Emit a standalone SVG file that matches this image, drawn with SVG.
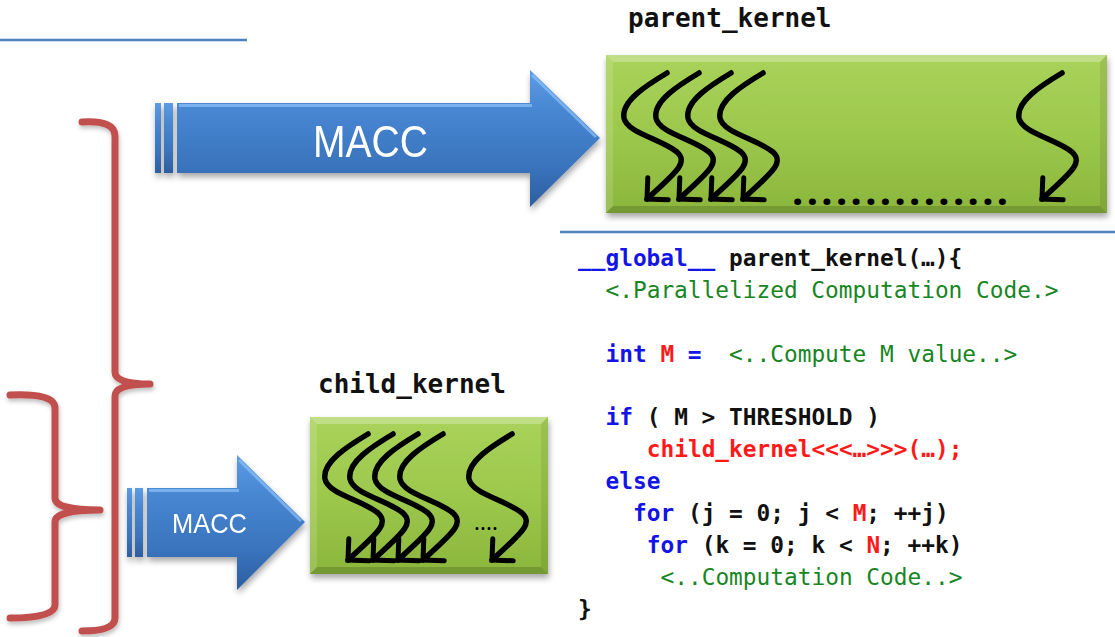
<svg xmlns="http://www.w3.org/2000/svg" width="1115" height="637" viewBox="0 0 1115 637">
  <defs>
    <style>
      .rule { stroke: #4f81bd; stroke-width: 2.5; fill: none; }
      .brace { stroke: #c0504d; stroke-width: 7; fill: none; stroke-linecap: round; stroke-linejoin: round; }
      .thread { stroke: #000; stroke-width: 5.5; fill: none; stroke-linecap: round; marker-end: url(#chevron); }
      .label { font-family: "DejaVu Sans Mono", "Liberation Mono", monospace; font-weight: bold; font-size: 26px; fill: #111; }
      .code { font-family: "DejaVu Sans Mono", "Liberation Mono", monospace; font-size: 22.8px; font-weight: bold; }
      .kw { fill: #1414e6; }
      .tx { fill: #111; }
      .hl { fill: #ff1a1a; }
      .cm { fill: #17861f; font-weight: normal; }
      .macc { font-family: "Liberation Sans", Arial, sans-serif; fill: #fff; }
      .dots { font-family: "Noto Sans", "Open Sans", sans-serif; font-weight: bold; fill: #000; }
      .bevel-top { fill: #fff; opacity: 0.28; }
      .bevel-left { fill: #fff; opacity: 0.14; }
      .bevel-right { fill: #000; opacity: 0.08; }
      .bevel-bottom { fill: #000; opacity: 0.16; }
    </style>
    <linearGradient id="green" x1="0" y1="0" x2="0" y2="1">
      <stop offset="0" stop-color="#a9d35a"/>
      <stop offset="0.5" stop-color="#9cc84c"/>
      <stop offset="1" stop-color="#8bb63c"/>
    </linearGradient>
    <linearGradient id="blue" x1="0" y1="0" x2="0" y2="1">
      <stop offset="0" stop-color="#5d9be4"/>
      <stop offset="0.3" stop-color="#4886d2"/>
      <stop offset="0.7" stop-color="#3a74bd"/>
      <stop offset="1" stop-color="#2c5e9f"/>
    </linearGradient>
    <filter id="shadow" x="-10%" y="-10%" width="120%" height="130%">
      <feDropShadow dx="1" dy="4" stdDeviation="3" flood-color="#000" flood-opacity="0.35"/>
    </filter>
    <filter id="softshadow" x="-20%" y="-5%" width="140%" height="110%">
      <feDropShadow dx="1" dy="3" stdDeviation="2" flood-color="#000" flood-opacity="0.25"/>
    </filter>
    <marker id="chevron" markerUnits="userSpaceOnUse" viewBox="0 0 24 24" refX="20" refY="12" markerWidth="24" markerHeight="24" orient="auto" overflow="visible">
      <path d="M5,-3 L20,12 L5,27" fill="none" stroke="#000" stroke-width="5" stroke-linecap="round" stroke-linejoin="miter"/>
    </marker>
    <!-- one wavy thread, drawn from its top start point -->
    <path id="wave" class="thread" d="M0,0 C-20,12 -46,28 -43,45 C-40,60 -6,66 10,79 C22,90 8,100 -20,126"/>
  </defs>

  <rect width="1115" height="637" fill="#fff"/>

  <!-- horizontal rules -->
  <line class="rule" x1="0" y1="40" x2="247" y2="40"/>
  <line class="rule" x1="560" y1="232" x2="1115" y2="232"/>

  <!-- braces on the left -->
  <g id="braces" filter="url(#softshadow)">
    <path class="brace" d="M82,122 Q115,120 115,136 L115,372 Q115,384 150,384 Q115,384 115,396 L115,618 Q115,631 82,631"/>
    <path class="brace" d="M10,395 Q55,393 55,408 L55,498 Q55,510 100,510 Q55,510 55,522 L55,605 Q55,618 10,618"/>
  </g>

  <!-- MACC arrows -->
  <g id="connectors">
    <g id="arrow-parent" filter="url(#shadow)">
      <rect x="155" y="103" width="6" height="70" fill="url(#blue)"/>
      <rect x="164" y="103" width="9" height="70" fill="url(#blue)"/>
      <path d="M177,103 L530,103 L530,70 L600,138 L530,207 L530,173 L177,173 Z" fill="url(#blue)"/>
      <path d="M179,105.5 L532,105.5 M532,75 L596,137" stroke="#8cc2f7" stroke-width="3" opacity="0.7" fill="none"/>
      <text class="macc" x="313" y="157" font-size="44" textLength="115" lengthAdjust="spacingAndGlyphs">MACC</text>
    </g>
    <g id="arrow-child" filter="url(#shadow)">
      <rect x="127" y="488" width="5" height="69" fill="url(#blue)"/>
      <rect x="135" y="488" width="8" height="69" fill="url(#blue)"/>
      <path d="M147,488 L237,488 L237,455 L305,522 L237,590 L237,557 L147,557 Z" fill="url(#blue)"/>
      <path d="M149,490.5 L239,490.5 M239,460 L301,521" stroke="#8cc2f7" stroke-width="3" opacity="0.7" fill="none"/>
      <text class="macc" x="172" y="533" font-size="28" textLength="75" lengthAdjust="spacingAndGlyphs">MACC</text>
    </g>
  </g>

  <!-- parent kernel -->
  <g id="parent-kernel">
    <text class="label" x="628" y="27">parent_kernel</text>
    <g filter="url(#shadow)">
      <rect x="606" y="55" width="501" height="158" fill="url(#green)"/>
    </g>
    <polygon class="bevel-top" points="606,55 1107,55 1100,62 613,62"/>
    <polygon class="bevel-left" points="606,55 613,62 613,206 606,213"/>
    <polygon class="bevel-right" points="1107,55 1107,213 1100,206 1100,62"/>
    <polygon class="bevel-bottom" points="606,213 1107,213 1100,206 613,206"/>
    <use href="#wave" x="667" y="73"/>
    <use href="#wave" x="699" y="73"/>
    <use href="#wave" x="731" y="73"/>
    <use href="#wave" x="763" y="73"/>
    <use href="#wave" x="1062" y="73"/>
    <text class="dots" x="792" y="205" font-size="40" textLength="216" lengthAdjust="spacing">...............</text>
  </g>

  <!-- child kernel -->
  <g id="child-kernel">
    <text class="label" x="318" y="393">child_kernel</text>
    <g filter="url(#shadow)">
      <rect x="310" y="417" width="238" height="157" fill="url(#green)"/>
    </g>
    <polygon class="bevel-top" points="310,417 548,417 541,424 317,424"/>
    <polygon class="bevel-left" points="310,417 317,424 317,567 310,574"/>
    <polygon class="bevel-right" points="548,417 548,574 541,567 541,424"/>
    <polygon class="bevel-bottom" points="310,574 548,574 541,567 317,567"/>
    <use href="#wave" x="368" y="434"/>
    <use href="#wave" x="393" y="434"/>
    <use href="#wave" x="418" y="434"/>
    <use href="#wave" x="443" y="434"/>
    <use href="#wave" x="512" y="434"/>
    <text x="474" y="530" font-family="Noto Sans, sans-serif" font-size="22" fill="#000" textLength="24" lengthAdjust="spacing">....</text>
  </g>

  <!-- kernel source -->
  <g id="code" class="code">
    <text xml:space="preserve" x="578" y="266"><tspan class="kw">__global__</tspan><tspan class="tx"> parent_kernel(…){</tspan></text>
    <text xml:space="preserve" x="605.5" y="298"><tspan class="cm">&lt;.Parallelized Computation Code.&gt;</tspan></text>
    <text xml:space="preserve" x="605.5" y="362"><tspan class="kw">int </tspan><tspan class="hl">M</tspan><tspan class="kw"> =</tspan><tspan class="cm">  &lt;..Compute M value..&gt;</tspan></text>
    <text xml:space="preserve" x="605.5" y="425"><tspan class="kw">if</tspan><tspan class="tx"> ( M &gt; THRESHOLD )</tspan></text>
    <text xml:space="preserve" x="646.75" y="457"><tspan class="hl">child_kernel&lt;&lt;&lt;…&gt;&gt;&gt;(…);</tspan></text>
    <text xml:space="preserve" x="605.5" y="489"><tspan class="kw">else</tspan></text>
    <text xml:space="preserve" x="633" y="521"><tspan class="kw">for</tspan><tspan class="tx"> (j = 0; j &lt; </tspan><tspan class="hl">M</tspan><tspan class="tx">; ++j)</tspan></text>
    <text xml:space="preserve" x="646.75" y="553"><tspan class="kw">for</tspan><tspan class="tx"> (k = 0; k &lt; </tspan><tspan class="hl">N</tspan><tspan class="tx">; ++k)</tspan></text>
    <text xml:space="preserve" x="660.5" y="585"><tspan class="cm">&lt;..Computation Code..&gt;</tspan></text>
    <text xml:space="preserve" x="578" y="617"><tspan class="tx">}</tspan></text>
  </g>
</svg>
